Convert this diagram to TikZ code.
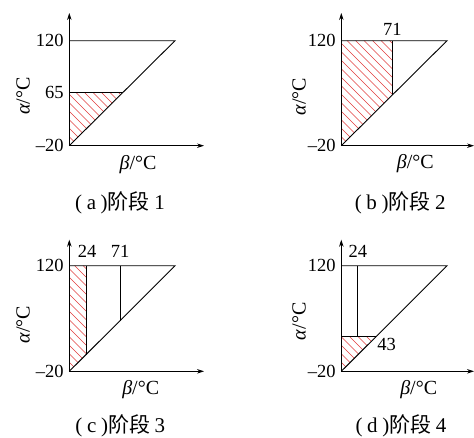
\documentclass[tikz,border=0pt]{standalone}
\usepackage{fontspec}
\setmainfont{Liberation Serif}
\newfontfamily\cjk{Noto Sans CJK SC}
\usetikzlibrary{arrows.meta}
\definecolor{hatchred}{RGB}{225,60,60}
\begin{document}
\begin{tikzpicture}[x=1pt,y=-1pt,line width=0.9pt,
  axis/.style={-{Stealth[length=7pt,width=4.5pt]}},
  lbl/.style={font=\fontsize{18.5}{20}\selectfont,inner sep=0pt},
  axlbl/.style={font=\fontsize{20}{22}\selectfont,inner sep=0pt},
  captext/.style={font=\fontsize{21}{24}\selectfont,inner sep=0pt,anchor=base},
  hatchline/.style={draw=hatchred,line width=0.5pt}]
\useasboundingbox (0,0) rectangle (474,437);
\newcommand{\myhatch}[2]{% origin x, origin y
  \foreach \k in {-8,0.5,...,240} {\draw[hatchline] (#1+\k-150,#2-150) -- ++(200,200);}}
\newcommand{\mycap}[2]{(\hspace{0.22em}#1\hspace{0.22em}){\cjk 阶段}\hspace{0.22em}#2}

% ---------------- Panel (a)
\coordinate (oa) at (69.3,145.7);
\coordinate (ta) at (69.3,40.7);
\coordinate (pa) at (175,40.7);
\coordinate (ya) at (69.3,13);
\coordinate (xa) at (204,145.7);
\coordinate (ha) at (69.3,92.7);
\coordinate (da) at (122.7,92.7);
\begin{scope}
  \clip (oa) -- (ha) -- (da) -- cycle;
  \myhatch{69.3}{145.7}
\end{scope}
\draw[axis] (oa) -- (ya);
\draw[axis] (oa) -- (xa);
\draw (ta) -- (pa) -- (oa);
\draw (ha) -- (da);
\node[lbl,anchor=east] (a120) at (64,40.7) {120};
\node[lbl,anchor=east] (a65) at (64,92.7) {65};
\node[lbl,anchor=east] (am20) at (64,145.7) {–20};
\node[axlbl,rotate=90] (aal) at (23,96) {\textit{α}/°C};
\node[axlbl] (abe) at (138,165) {\textit{β}/°C};
\node[captext] (acap) at (120,209) {\mycap{a}{1}};

% ---------------- Panel (b)
\coordinate (ob) at (341.3,145.7);
\coordinate (tb) at (341.3,40.7);
\coordinate (pb) at (447,40.7);
\coordinate (yb) at (341.3,13);
\coordinate (xb) at (474,145.7);
\coordinate (vb1) at (392.3,40.7);
\coordinate (vb2) at (392.3,95);
\begin{scope}
  \clip (ob) -- (tb) -- (vb1) -- (vb2) -- cycle;
  \myhatch{341.3}{145.7}
\end{scope}
\draw[axis] (ob) -- (yb);
\draw[axis] (ob) -- (xb);
\draw (tb) -- (pb) -- (ob);
\draw (vb1) -- (vb2);
\node[lbl,anchor=east] (b120) at (336,40.7) {120};
\node[lbl,anchor=east] (bm20) at (336,145.7) {–20};
\node[lbl] (b71) at (392.3,29.3) {71};
\node[axlbl,rotate=90] (bal) at (299,96.7) {\textit{α}/°C};
\node[axlbl] (bbe) at (415.3,163.3) {\textit{β}/°C};
\node[captext] (bcap) at (400.3,209) {\mycap{b}{2}};

% ---------------- Panel (c)
\coordinate (oc) at (69.3,371.3);
\coordinate (tc) at (69.3,265.7);
\coordinate (pc) at (175,265.7);
\coordinate (yc) at (69.3,239.7);
\coordinate (xc) at (204,371.3);
\coordinate (vc1) at (86,265.7);
\coordinate (vc2) at (86,354.7);
\coordinate (wc1) at (120,265.7);
\coordinate (wc2) at (120,320.9);
\begin{scope}
  \clip (oc) -- (tc) -- (vc1) -- (vc2) -- cycle;
  \myhatch{69.3}{371.3}
\end{scope}
\draw[axis] (oc) -- (yc);
\draw[axis] (oc) -- (xc);
\draw (tc) -- (pc) -- (oc);
\draw (vc1) -- (vc2);
\draw (wc1) -- (wc2);
\node[lbl,anchor=east] (c120) at (64,265.7) {120};
\node[lbl,anchor=east] (cm20) at (64,371.3) {–20};
\node[lbl] (c24) at (87,251.3) {24};
\node[lbl] (c71) at (120,251.3) {71};
\node[axlbl,rotate=90] (cal) at (23,324.7) {\textit{α}/°C};
\node[axlbl] (cbe) at (140.7,389.7) {\textit{β}/°C};
\node[captext] (ccap) at (120.3,432.5) {\mycap{c}{3}};

% ---------------- Panel (d)
\coordinate (od) at (341.3,371.3);
\coordinate (td) at (341.3,265.7);
\coordinate (pd) at (447,265.7);
\coordinate (yd) at (341.3,239.7);
\coordinate (xd) at (474,371.3);
\coordinate (vd1) at (357.7,265.7);
\coordinate (vd2) at (357.7,336.3);
\coordinate (hd) at (341.3,336.3);
\coordinate (dd) at (376.3,336.3);
\begin{scope}
  \clip (od) -- (hd) -- (dd) -- cycle;
  \myhatch{341.3}{371.3}
\end{scope}
\draw[axis] (od) -- (yd);
\draw[axis] (od) -- (xd);
\draw (td) -- (pd) -- (od);
\draw (vd1) -- (vd2);
\draw (hd) -- (dd);
\node[lbl,anchor=east] (d120) at (336,265.7) {120};
\node[lbl,anchor=east] (dm20) at (336,371.3) {–20};
\node[lbl] (d24) at (357.8,251.3) {24};
\node[lbl] (d43) at (386.7,344.7) {43};
\node[axlbl,rotate=90] (dal) at (299,321.3) {\textit{α}/°C};
\node[axlbl] (dbe) at (418.7,389.7) {\textit{β}/°C};
\node[captext] (dcap) at (401,432.5) {\mycap{d}{4}};
\end{tikzpicture}
\end{document}
